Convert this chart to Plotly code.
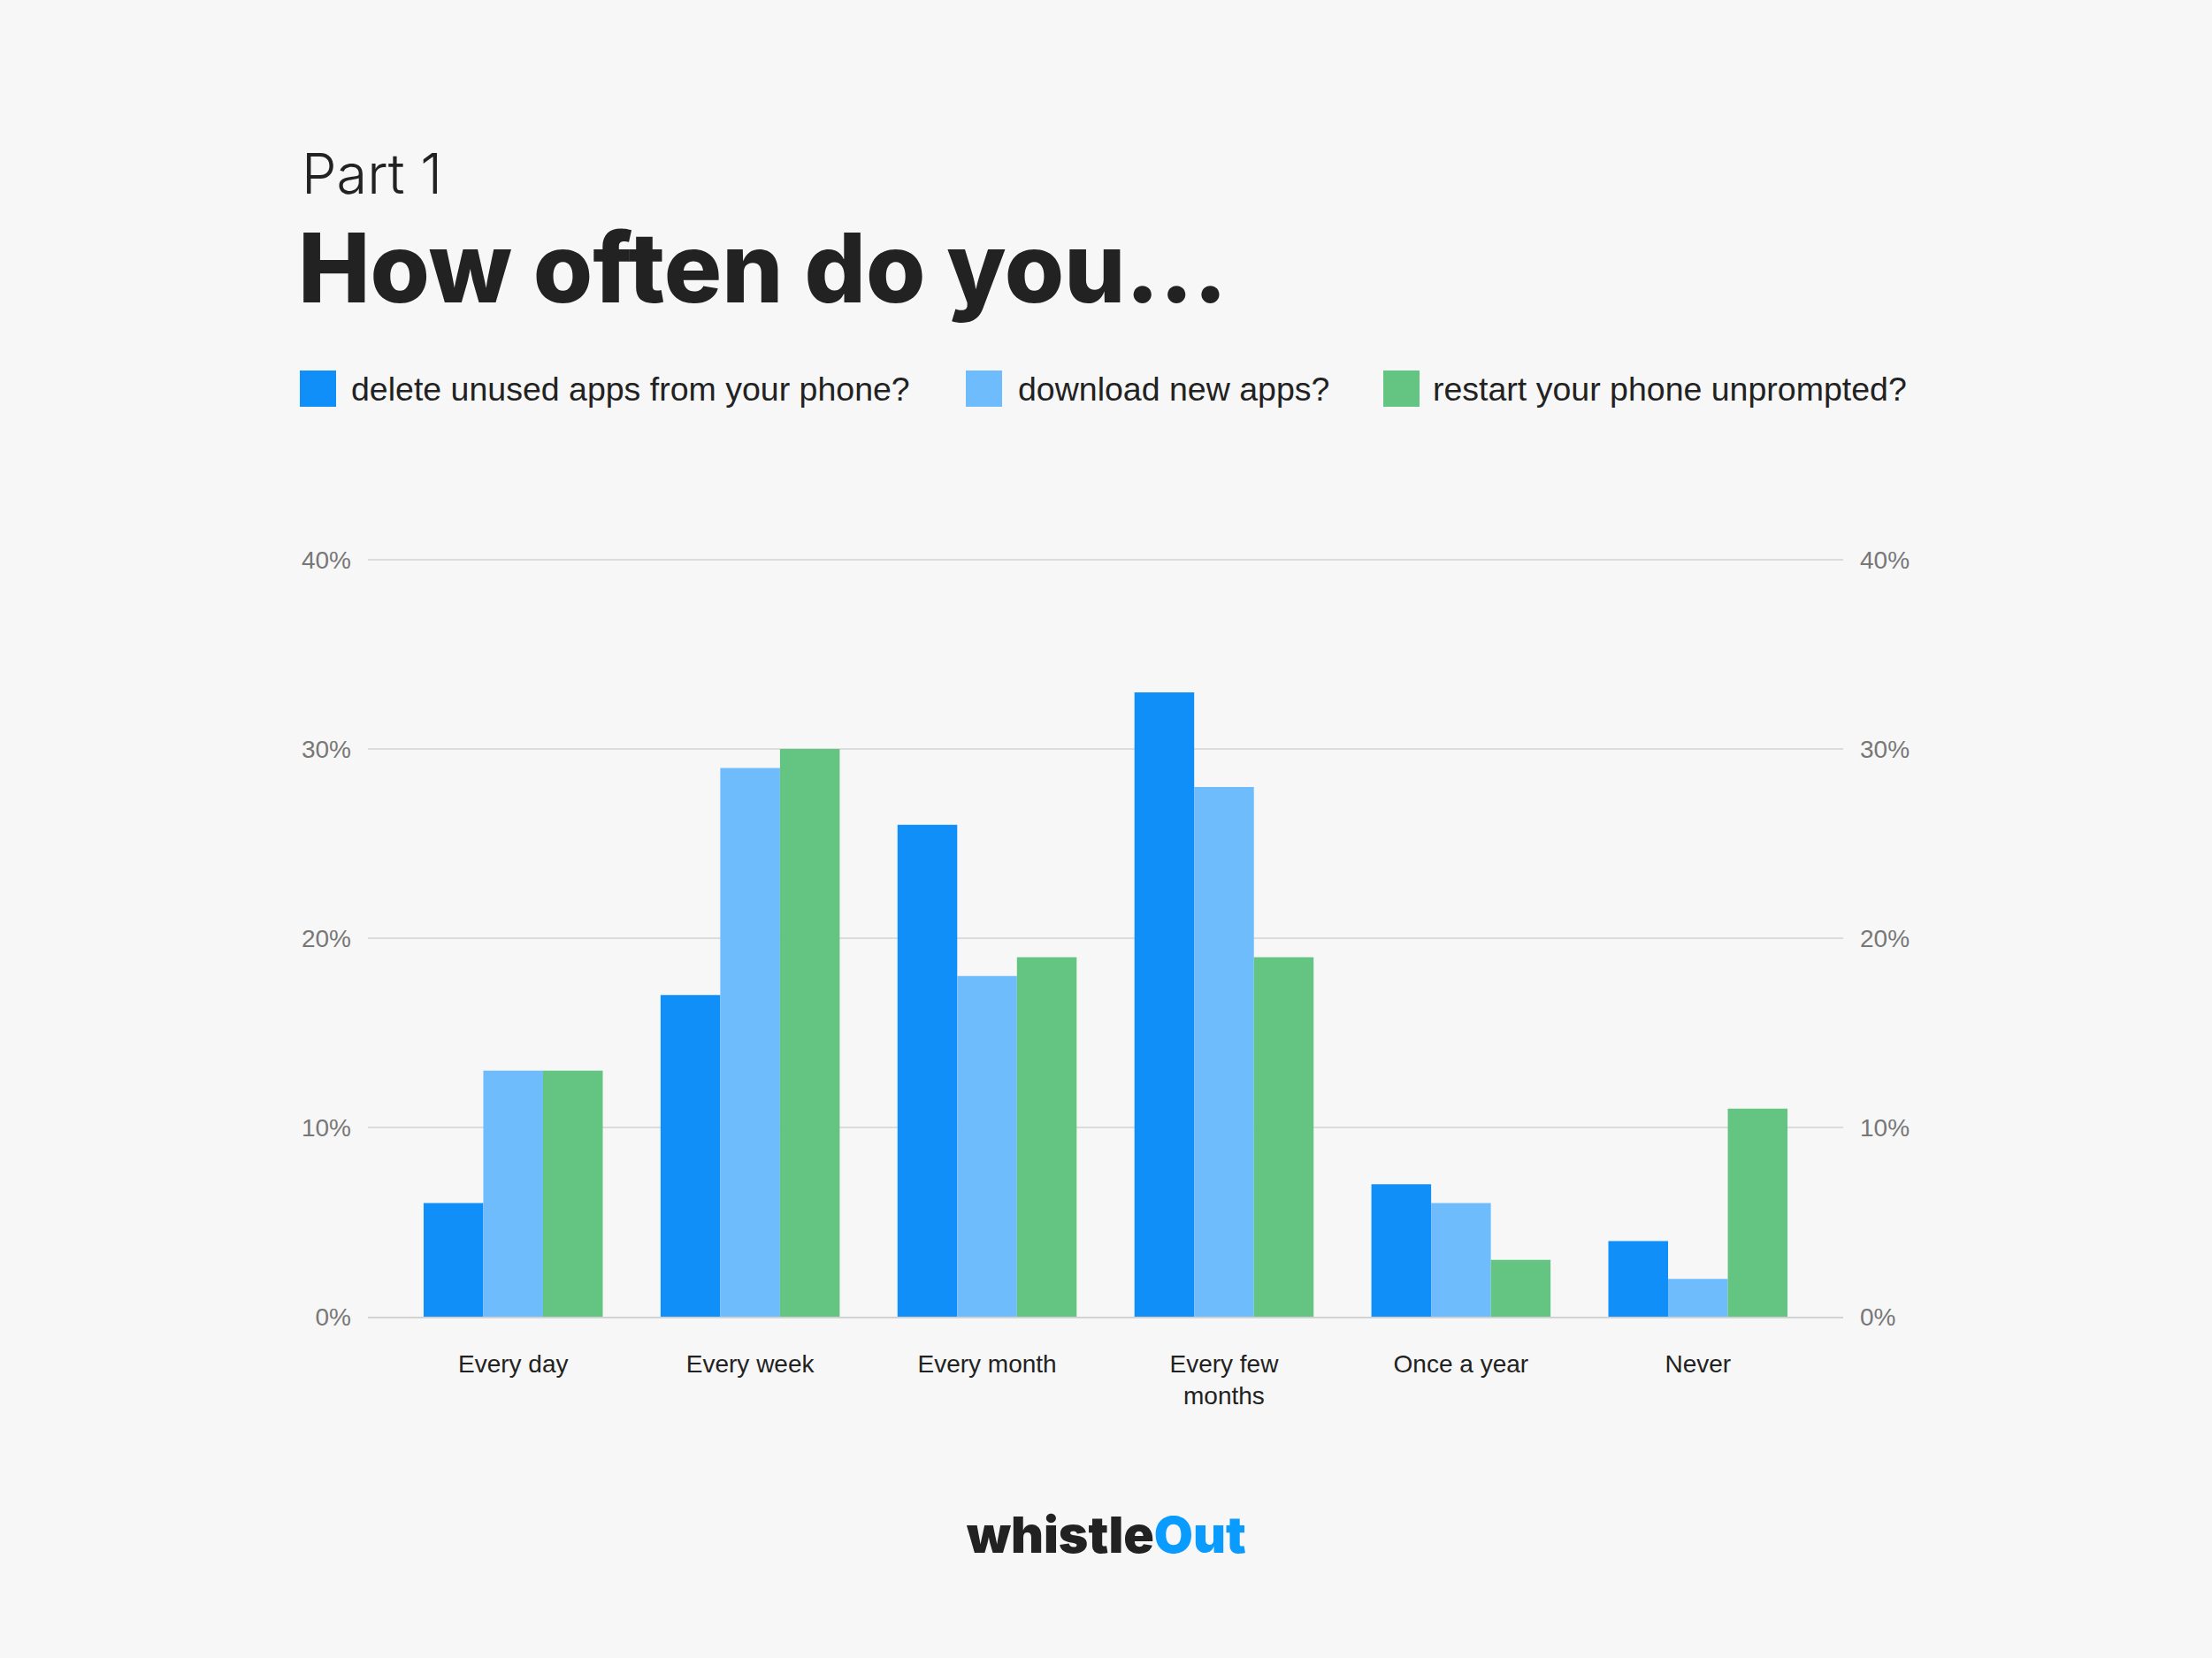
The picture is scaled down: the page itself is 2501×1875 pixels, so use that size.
import plotly.graph_objects as go

# ---- data ----
categories = ["Every day", "Every week", "Every month", "Every few<br>months", "Once a year", "Never"]
series_names = ["delete unused apps from your phone?", "download new apps?", "restart your phone unprompted?"]
delete_apps = [6, 17, 26, 33, 7, 4]
download_apps = [13, 29, 18, 28, 6, 2]
restart_phone = [13, 30, 19, 19, 3, 11]
series_values = [delete_apps, download_apps, restart_phone]
colors = ["#118ff9", "#6fbcfd", "#64c482"]
y_ticks = [0, 10, 20, 30, 40]
y_ticktext = ["0%", "10%", "20%", "30%", "40%"]

W, H = 2501, 1875
L, R, T, B = 416, 2084, 631, 1489  # plot area in px (top slightly above 40% line)
Y_MAX = 40.1


def px(x):
    return (x - L) / (R - L)


def py(y):
    return (B - y) / (B - T)


fig = go.Figure()
for name, vals, col in zip(series_names, series_values, colors):
    fig.add_trace(go.Bar(x=categories, y=vals, name=name, marker_color=col,
                         marker_line_width=0, showlegend=False, hoverinfo="skip"))
# invisible trace to activate right axis
fig.add_trace(go.Scatter(x=[categories[0]], y=[0], yaxis="y2", mode="markers",
                         marker=dict(opacity=0), showlegend=False, hoverinfo="skip"))

bg = "#f7f7f7"
fig.update_layout(
    width=W, height=H,
    paper_bgcolor=bg, plot_bgcolor=bg,
    margin=dict(l=L, r=W - R, t=T, b=H - B, pad=0),
    barmode="group", bargap=0.244, bargroupgap=0,
    xaxis=dict(type="category", range=[-0.613, 5.613], showgrid=False, zeroline=False,
               showline=True, linecolor="#d2d2d2", linewidth=2, ticks="",
               tickfont=dict(family="Liberation Sans, Arial", size=28, color="#222222"),
               ticklabelstandoff=27),
    yaxis=dict(range=[0, Y_MAX], tickvals=y_ticks, ticktext=y_ticktext, showgrid=True,
               gridcolor="#dcdcdc", gridwidth=1.5, zeroline=False, showline=False, ticks="",
               tickfont=dict(family="Liberation Sans, Arial", size=28, color="#777777"),
               ticklabelstandoff=18, fixedrange=True),
    yaxis2=dict(range=[0, Y_MAX], tickvals=y_ticks, ticktext=y_ticktext, overlaying="y", side="right",
                showgrid=False, zeroline=False, showline=False, ticks="",
                tickfont=dict(family="Liberation Sans, Arial", size=28, color="#777777"),
                ticklabelstandoff=18),
)

annotations = []
shapes = []
# titles
annotations.append(dict(text="Part 1", x=px(339), y=py(196), xref="paper", yref="paper",
                        xanchor="left", yanchor="middle", showarrow=False,
                        font=dict(family="Inter", size=63, color="#222222", weight=300)))
annotations.append(dict(text="How often do you...", x=px(335), y=py(302), xref="paper", yref="paper",
                        xanchor="left", yanchor="middle", showarrow=False,
                        font=dict(family="Inter", size=109, color="#222222", weight=800)))
# legend
sq_x = [339, 1092, 1564]
tx_x = [395, 1149, 1618]
for name, col, sx, tx in zip(series_names, colors, sq_x, tx_x):
    shapes.append(dict(type="rect", xref="paper", yref="paper", x0=px(sx), x1=px(sx + 41),
                       y0=py(460), y1=py(419), fillcolor=col, line=dict(width=0)))
    annotations.append(dict(text=name, x=px(tx), y=py(440), xref="paper", yref="paper",
                            xanchor="left", yanchor="middle", showarrow=False,
                            font=dict(family="Liberation Sans, Arial", size=37.5, color="#222222")))
# logo
annotations.append(dict(text="<span style='color:#222222'>whistle</span><span style='color:#0a9bff'>Out</span>",
                        x=px(1250), y=py(1735), xref="paper", yref="paper",
                        xanchor="center", yanchor="middle", showarrow=False,
                        font=dict(family="Inter", size=57, weight=900)))

fig.update_layout(annotations=annotations, shapes=shapes)
fig.write_html("out.html")
